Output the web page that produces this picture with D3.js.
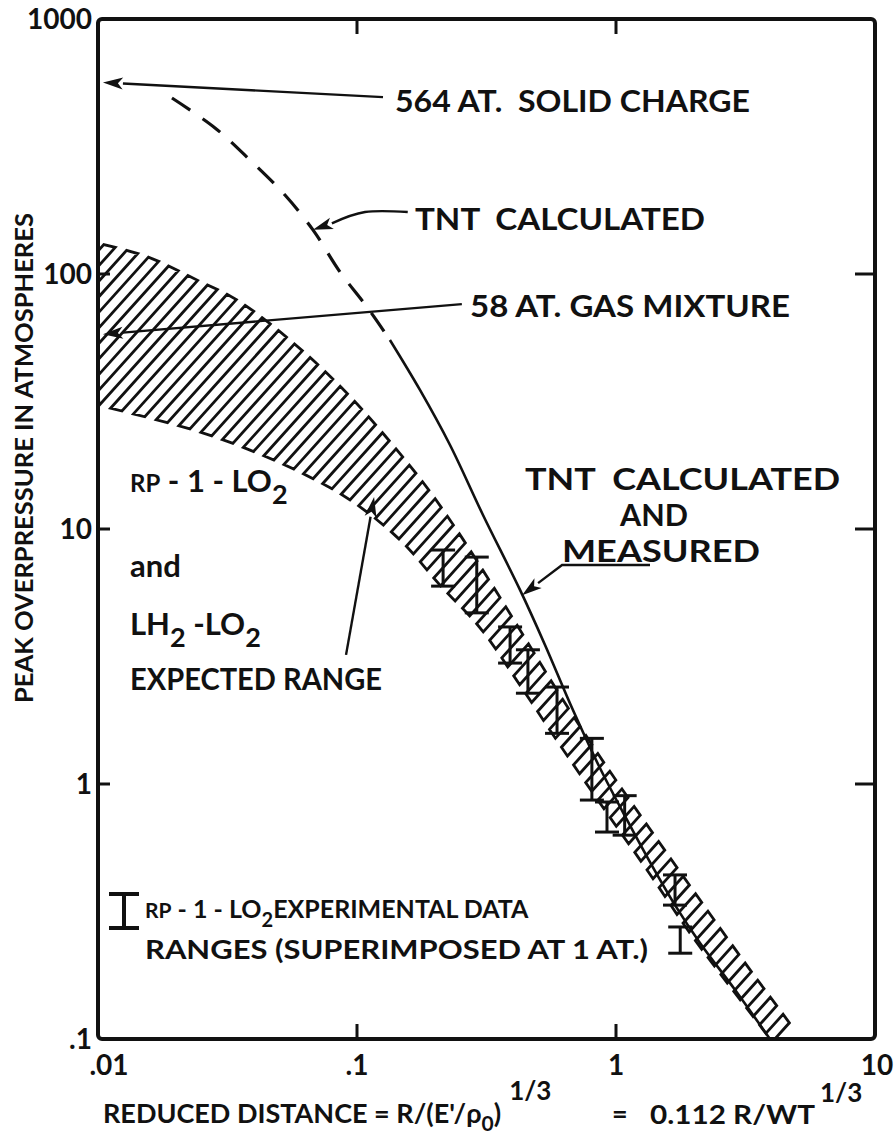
<!DOCTYPE html>
<html>
<head>
<meta charset="utf-8">
<script src="https://cdn.jsdelivr.net/npm/d3@7/dist/d3.min.js"></script>
<style>
    body { margin: 0; background: #fff; }
    svg text { font-family: Lato, "DejaVu Sans", sans-serif; font-weight: bold; fill: #111; white-space: pre; }
</style>
</head>
<body>
<div id="chart"></div>
<script>
// axis ticks
const xTicks = [0.01, 0.1, 1, 10];
const xTickLabels = [".01", ".1", "1", "10"];
const yTicks = [0.1, 1, 10, 100, 1000];
const yTickLabels = [".1", "1", "10", "100", "1000"];

// TNT calculated curve (dashed part, then solid part)
const tntDashX = [0.0193, 0.0283, 0.0386, 0.0527, 0.0676, 0.0859, 0.110, 0.134];
const tntDashY = [490, 374, 280, 204, 149, 102, 73.6, 55.1];
const tntSolidX = [0.134, 0.175, 0.2286, 0.3065, 0.426, 0.532, 0.682, 0.867, 1.103, 1.353, 1.69, 2.11, 2.88, 3.93];
const tntSolidY = [55.1, 35.1, 21.35, 11.35, 5.77, 3.51, 1.95, 1.155, 0.723, 0.494, 0.335, 0.238, 0.156, 0.1];

// RP-1-LO2 / LH2-LO2 expected range (hatched band)
const bandUpperX = [0.01, 0.01545, 0.0241, 0.0344, 0.0551, 0.0914, 0.175, 0.243, 0.327, 0.426, 0.608, 0.867, 1.24, 2.11, 3.29, 4.91, 5.37];
const bandUpperY = [132, 117, 94.7, 79.1, 55.1, 34.1, 15.8, 9.9, 6.2, 4.02, 2.23, 1.28, 0.755, 0.351, 0.187, 0.108, 0.0947];
const bandLowerX = [0.01, 0.0159, 0.0248, 0.0386, 0.0603, 0.094, 0.1466, 0.209, 0.299, 0.426, 0.608, 0.867, 1.318, 1.98, 3.93, 4.22];
const bandLowerY = [30.6, 27.2, 24.0, 20.4, 16.7, 13.0, 9.06, 6.03, 4.09, 2.44, 1.42, 0.842, 0.460, 0.251, 0.1, 0.0897];

// RP-1-LO2 experimental data ranges
const errX = [0.215, 0.29, 0.39, 0.457, 0.592, 0.807, 0.923, 1.08, 1.69, 1.77];
const errLo = [5.97, 4.69, 2.98, 2.27, 1.58, 0.865, 0.648, 0.63, 0.335, 0.217];
const errHi = [8.27, 7.76, 4.13, 3.36, 2.40, 1.51, 0.85, 0.9, 0.44, 0.275];

const solidCharge = 564;
const gasMixture = 58;

function drawChart() {
    const width = 894;
    const height = 1143;

    const svg = d3.select("#chart")
        .append("svg")
        .attr("width", width)
        .attr("height", height);

    const x = d3.scaleLog().domain([0.01, 10]).range([98, 875]);
    const y = d3.scaleLog().domain([0.1, 1000]).range([1039, 19]);

    svg.append("clipPath")
        .attr("id", "plotClip")
        .append("rect")
        .attr("x", 98).attr("y", 19)
        .attr("width", 777).attr("height", 1020);

    const plot = svg.append("g").attr("clip-path", "url(#plotClip)");

    // --- hatched band, drawn as one serpentine line ---
    const smooth = d3.line().curve(d3.curveCatmullRom.alpha(0.5));
    function sampleEdge(xs, ys) {
        const p = svg.append("path")
            .attr("d", smooth(xs.map((v, i) => [x(v), y(ys[i])])))
            .attr("fill", "none");
        const node = p.node();
        const len = node.getTotalLength();
        const pts = [];
        for (let s = 0; s <= len; s += 2) {
            const q = node.getPointAtLength(s);
            pts.push([q.x, q.y]);
        }
        p.remove();
        return pts;
    }
    const upper = sampleEdge(bandUpperX, bandUpperY);
    const lower = [[x(bandUpperX[0]), y(bandUpperY[0])]].concat(sampleEdge(bandLowerX, bandLowerY));

    const k = 0.9;
    function crossAt(poly, c) {
        for (let i = 1; i < poly.length; i++) {
            const f0 = poly[i - 1][0] + k * poly[i - 1][1] - c;
            const f1 = poly[i][0] + k * poly[i][1] - c;
            if (f0 <= 0 && f1 >= 0 && f1 !== f0) {
                const t = -f0 / (f1 - f0);
                return [poly[i - 1][0] + t * (poly[i][0] - poly[i - 1][0]),
                        poly[i - 1][1] + t * (poly[i][1] - poly[i - 1][1])];
            }
        }
        return null;
    }
    const serp = [];
    let n = 0;
    for (let c = upper[0][0] + k * upper[0][1] + 7; c < 1800; c += 14) {
        const a = crossAt(lower, c);
        const b = crossAt(upper, c);
        if (!a || !b) continue;
        if (n % 2 === 0) serp.push(a, b); else serp.push(b, a);
        n++;
    }
    plot.append("path")
        .attr("d", d3.line()(serp))
        .attr("fill", "none")
        .attr("stroke", "#111")
        .attr("stroke-width", 2.8)
        .attr("stroke-linejoin", "miter");

    // --- TNT curve ---
    const curve = d3.line()
        .x(d => x(d[0]))
        .y(d => y(d[1]))
        .curve(d3.curveCatmullRom.alpha(0.5));

    plot.append("path")
        .attr("d", curve(tntDashX.map((v, i) => [v, tntDashY[i]])))
        .attr("fill", "none")
        .attr("stroke", "#111")
        .attr("stroke-width", 3.2)
        .attr("stroke-dasharray", "22,15");

    plot.append("path")
        .attr("d", curve(tntSolidX.map((v, i) => [v, tntSolidY[i]])))
        .attr("fill", "none")
        .attr("stroke", "#111")
        .attr("stroke-width", 2.6);

    // --- error bars ---
    function ibeam(g, cx, y0, y1, half, sw) {
        g.append("line").attr("x1", cx).attr("x2", cx).attr("y1", y0).attr("y2", y1);
        g.append("line").attr("x1", cx - half).attr("x2", cx + half).attr("y1", y0).attr("y2", y0);
        g.append("line").attr("x1", cx - half).attr("x2", cx + half).attr("y1", y1).attr("y2", y1);
        g.selectAll("line").attr("stroke", "#111").attr("stroke-width", sw);
    }
    errX.forEach((v, i) => {
        const g = plot.append("g");
        ibeam(g, x(v), y(errHi[i]), y(errLo[i]), 12, 3);
    });

    // --- frame and ticks ---
    svg.append("rect")
        .attr("x", 98).attr("y", 19)
        .attr("width", 777).attr("height", 1020)
        .attr("rx", 4)
        .attr("fill", "none")
        .attr("stroke", "#111")
        .attr("stroke-width", 4);

    const tickG = svg.append("g").attr("stroke", "#111").attr("stroke-width", 3);
    [0.1, 1].forEach(v => {
        tickG.append("line").attr("x1", x(v)).attr("x2", x(v)).attr("y1", 19).attr("y2", 34);
        tickG.append("line").attr("x1", x(v)).attr("x2", x(v)).attr("y1", 1039).attr("y2", 1024);
    });
    [1, 10, 100].forEach(v => {
        tickG.append("line").attr("x1", 875).attr("x2", 855).attr("y1", y(v)).attr("y2", y(v));
        tickG.append("line").attr("x1", 98).attr("x2", 110).attr("y1", y(v)).attr("y2", y(v));
    });

    svg.selectAll(".xlab")
        .data(xTicks)
        .enter().append("text")
        .attr("class", "xlab")
        .attr("x", (d, i) => x(d) + (i === 0 ? 11 : i === 3 ? 2 : 0))
        .attr("y", 1075)
        .attr("text-anchor", "middle")
        .style("font-size", "28px")
        .text((d, i) => xTickLabels[i]);

    svg.selectAll(".ylab")
        .data(yTicks)
        .enter().append("text")
        .attr("class", "ylab")
        .attr("x", 92)
        .attr("y", d => y(d))
        .attr("dy", "0.36em")
        .attr("text-anchor", "end")
        .style("font-size", "28px")
        .text((d, i) => yTickLabels[i]);

    // --- axis titles ---
    svg.append("text")
        .attr("transform", "translate(33, 458) rotate(-90)")
        .attr("text-anchor", "middle")
        .attr("textLength", 490)
        .attr("lengthAdjust", "spacingAndGlyphs")
        .style("font-size", "25px")
        .text("PEAK OVERPRESSURE IN ATMOSPHERES");

    const xt = svg.append("g").style("font-size", "27px");
    const xa = xt.append("text").attr("x", 103).attr("y", 1123);
    xa.append("tspan").text("REDUCED DISTANCE = R/(E'/ρ");
    xa.append("tspan").attr("dy", 8).style("font-size", "21px").text("0");
    xa.append("tspan").attr("dy", -8).text(")");
    xa.append("tspan").attr("dx", 8).attr("dy", -23).style("font-size", "26px").text("1/3");
    xt.append("text").attr("x", 612).attr("y", 1123).text("=");
    xt.append("text").attr("x", 650).attr("y", 1124).attr("textLength", 165)
        .attr("lengthAdjust", "spacingAndGlyphs").text("0.112 R/WT");
    xt.append("text").attr("x", 820).attr("y", 1102).style("font-size", "26px").text("1/3");

    // --- arrows ---
    function arrow(pts, curved) {
        const p = pts.map(d => [x(d[0]), y(d[1])]);
        const tip = p[p.length - 1];
        const prev = p[p.length - 2];
        const dx = tip[0] - prev[0], dy = tip[1] - prev[1];
        const L = Math.hypot(dx, dy);
        const ux = dx / L, uy = dy / L;
        const hl = 20, hw = 6;
        const base = [tip[0] - ux * hl, tip[1] - uy * hl];
        const line = d3.line().curve(curved ? d3.curveNatural : d3.curveLinear);
        const shaft = p.slice(0, -1).concat([base]);
        svg.append("path")
            .attr("d", line(shaft))
            .attr("fill", "none")
            .attr("stroke", "#111")
            .attr("stroke-width", 2.4);
        svg.append("path")
            .attr("d", d3.line()([tip,
                [base[0] - uy * hw, base[1] + ux * hw],
                [base[0] + ux * 5, base[1] + uy * 5],
                [base[0] + uy * hw, base[1] - ux * hw]]) + "Z")
            .attr("fill", "#111");
    }
    arrow([[0.126, 494], [0.01045, solidCharge]], false);
    arrow([[0.157, 175], [0.1074, 175], [0.0676, 149]], true);
    arrow([[0.254, 76.2], [0.01045, gasMixture]], false);
    arrow([[1.353, 7.22], [0.619, 7.22], [0.434, 5.5]], false);
    arrow([[0.0907, 3.21], [0.1164, 13.35]], false);

    // --- annotation labels ---
    const lab = svg.append("g").style("font-size", "31px");
    function label(tx, ty, len, s) {
        lab.append("text").attr("x", tx).attr("y", ty)
            .attr("textLength", len)
            .attr("lengthAdjust", "spacingAndGlyphs")
            .text(s);
    }
    label(395, 112, 355, "564 AT.  SOLID CHARGE");
    label(415, 230, 290, "TNT  CALCULATED");
    label(470, 317, 320, "58 AT. GAS MIXTURE");
    label(525, 490, 315, "TNT  CALCULATED");
    label(620, 526, 68, "AND");
    label(562, 562, 198, "MEASURED");

    const rp = lab.append("text").attr("x", 130).attr("y", 492);
    rp.append("tspan").style("font-size", "24px").text("RP");
    rp.append("tspan").text(" - 1 - LO");
    rp.append("tspan").attr("dy", 12).style("font-size", "27px").text("2");

    lab.append("text").attr("x", 130).attr("y", 577).text("and");

    const lh = lab.append("text").attr("x", 130).attr("y", 635);
    lh.append("tspan").text("LH");
    lh.append("tspan").attr("dy", 12).style("font-size", "27px").text("2");
    lh.append("tspan").attr("dy", -12).text(" -LO");
    lh.append("tspan").attr("dy", 12).style("font-size", "27px").text("2");

    label(130, 690, 252, "EXPECTED RANGE");

    // --- legend ---
    const lg = svg.append("g");
    ibeam(lg, 124, 894, 928, 15, 4);
    const l1 = lg.append("text").attr("x", 145).attr("y", 918).style("font-size", "25px");
    l1.append("tspan").style("font-size", "21px").text("RP");
    l1.append("tspan").text(" - 1 - LO");
    l1.append("tspan").attr("dy", 9).style("font-size", "20px").text("2");
    l1.append("tspan").attr("dy", -9).text("EXPERIMENTAL DATA");
    lg.append("text").attr("x", 145).attr("y", 959).attr("textLength", 503)
        .attr("lengthAdjust", "spacingAndGlyphs")
        .style("font-size", "26px").text("RANGES (SUPERIMPOSED AT 1 AT.)");
}

drawChart();
</script>
</body>
</html>
